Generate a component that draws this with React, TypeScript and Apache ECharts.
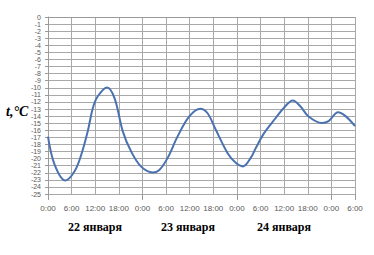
import React, { useEffect, useRef } from "react";
import * as echarts from "echarts";

const hours = [0, 1.7, 4.4, 6.75, 8.45, 10.1, 11.4, 12.65, 15.0, 16.9, 19.0, 21.1, 23.6, 26.6, 28.3, 30.4, 32.9, 35.9, 38.7, 40.5, 42.6, 45.6, 47.7, 49.5, 51.5, 52.8, 54.9, 57.8, 59.9, 62.2, 64.1, 66.2, 69.6, 71.3, 73.7, 75.6, 78];
const temps = [-16.9, -20.9, -23.1, -21.8, -19.45, -16.15, -12.85, -11.2, -9.95, -11.45, -16.15, -18.97, -21.1, -21.95, -21.6, -19.9, -16.9, -14.04, -12.95, -13.56, -15.9, -19.2, -20.6, -21.1, -19.9, -18.5, -16.4, -14.3, -12.85, -11.8, -12.6, -14.05, -14.97, -14.7, -13.45, -14.0, -15.4];
const timeLabels = ["0:00", "6:00", "12:00", "18:00"];
const yTickLabels = ["-25", "-24", "-23", "-22", "-21", "-20", "-19", "-18", "-17", "-16", "-15", "-14", "-13", "-12", "-11", "-10", "-9", "-8", "-7", "-6", "-5", "-4", "-3", "-2", "-1", "0"];
const days = ["22 января", "23 января", "24 января"];
const dayCenters = [95, 188, 284];
const yLabel = "t,°C";

export default function App() {
  const ref = useRef<HTMLDivElement>(null);
  useEffect(() => {
    if (!ref.current) return;
    const chart = echarts.init(ref.current, null, { renderer: "svg" });
    const data = hours.map((h, i) => [h, temps[i]]);
    chart.setOption({
      animation: false,
      backgroundColor: "#ffffff",
      grid: { left: 48, right: 19, top: 17, bottom: 61 },
      xAxis: [
        {
          type: "value",
          min: 0,
          max: 78,
          interval: 6,
          axisLine: { show: true, lineStyle: { color: "#9a9a9a", width: 1 } },
          axisTick: { show: false },
          splitLine: { show: true, lineStyle: { color: "#a8a8a8", width: 1 } },
          axisLabel: {
            color: "#595959",
            fontSize: 8,
            fontFamily: "Liberation Sans, Arial, sans-serif",
            margin: 10,
            showMinLabel: true,
            showMaxLabel: true,
            hideOverlap: false,
            formatter: (v: number) => timeLabels[Math.round((v % 24) / 6)],
          },
        },
        {
          type: "value",
          position: "bottom",
          min: 0,
          max: 78,
          interval: 24,
          axisLine: { show: false },
          axisTick: { show: true, length: 6, lineStyle: { color: "#9a9a9a" } },
          axisLabel: { show: false },
          splitLine: { show: false },
        },
      ],
      yAxis: [
        {
          type: "value",
          min: -25,
          max: 0,
          interval: 1,
          axisLine: { show: true, lineStyle: { color: "#9a9a9a", width: 1 } },
          axisTick: { show: true, length: 3, lineStyle: { color: "#9a9a9a" } },
          splitLine: { show: true, lineStyle: { color: "#a8a8a8", width: 1 } },
          axisLabel: { show: false },
        },
        {
          type: "category",
          position: "left",
          data: yTickLabels,
          boundaryGap: false,
          axisLine: { show: false },
          axisTick: { show: false },
          splitLine: { show: false },
          axisLabel: {
            interval: 0,
            color: "#595959",
            fontSize: 7,
            fontFamily: "Liberation Sans, Arial, sans-serif",
            margin: 7,
          },
        },
      ],
      series: [
        {
          type: "line",
          data,
          xAxisIndex: 0,
          yAxisIndex: 0,
          smooth: 0.35,
          showSymbol: false,
          lineStyle: { color: "#4a72b0", width: 2 },
        },
      ],
      graphic: [
        {
          type: "text",
          left: 6,
          top: 104,
          style: {
            text: yLabel,
            font: "italic bold 14px 'Liberation Serif', 'Times New Roman', serif",
            fill: "#000000",
          },
        },
        ...days.map((d, i) => ({
          type: "text",
          x: dayCenters[i],
          y: 227,
          style: {
            text: d,
            font: "bold 12px 'Liberation Serif', 'Times New Roman', serif",
            fill: "#000000",
            align: "center",
            verticalAlign: "middle",
          },
        })),
      ],
    });
    return () => chart.dispose();
  }, []);
  return <div ref={ref} style={{ width: 374, height: 255, position: "absolute", left: 0, top: 0 }} />;
}
